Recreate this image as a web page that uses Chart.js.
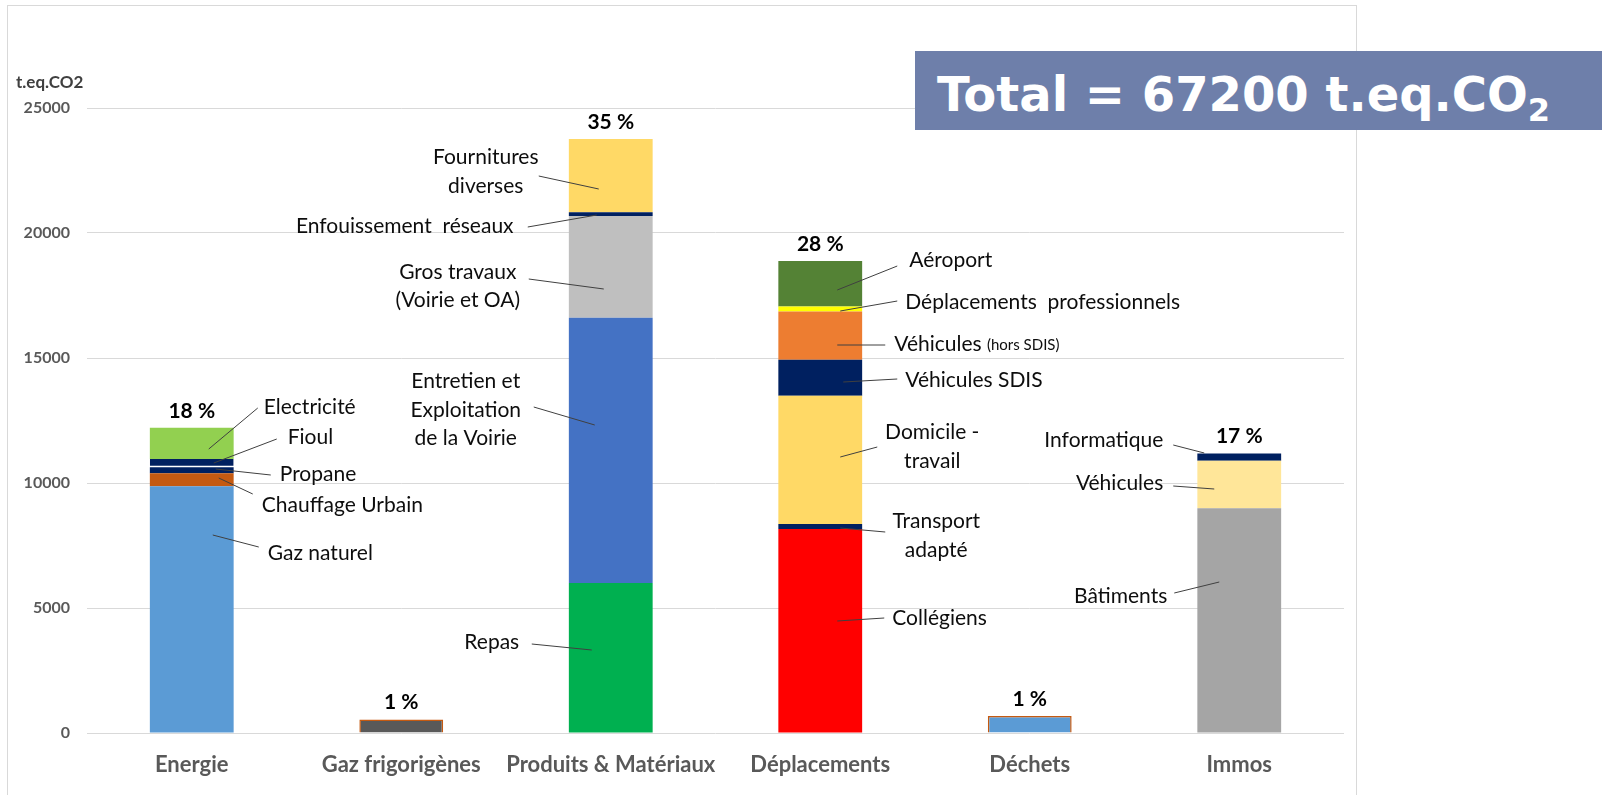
<!DOCTYPE html>
<html>
<head>
<meta charset="utf-8">
<script src="https://cdn.jsdelivr.net/npm/chart.js@4/dist/chart.umd.min.js"></script>
<style>
  html, body { margin: 0; padding: 0; background: #ffffff; }
  #wrap { position: relative; width: 1602px; height: 795px; overflow: hidden; }
  #frame { position: absolute; left: 7px; top: 5px; width: 1350px; height: 820px; border: 1px solid #D9D9D9; box-sizing: border-box; }
  #c { position: absolute; left: 0; top: 0; }
  #total { position: absolute; left: 915px; top: 51px; width: 687px; height: 79px; background: #6E7FAA; overflow: hidden;
           color: #ffffff; font-family: "DejaVu Sans", Verdana, sans-serif; font-weight: bold; font-size: 48px;
           line-height: 86px; padding-left: 22px; box-sizing: border-box; white-space: nowrap; }
  #total sub { font-size: 32px; vertical-align: -10px; line-height: 0; }
</style>
</head>
<body>
<div id="wrap">
  <div id="frame"></div>
  <canvas id="c" width="1602" height="795"></canvas>
  <div id="total">Total = 67200 t.eq.CO<sub>2</sub></div>
</div>
<script>
// ---------- DATA ----------
const categories = ['Energie', 'Gaz frigorigènes', 'Produits & Matériaux', 'Déplacements', 'Déchets', 'Immos'];
const percentLabels = ['18 %', '1 %', '35 %', '28 %', '1 %', '17 %'];
const yTicks = [0, 5000, 10000, 15000, 20000, 25000];
const yUnit = 't.eq.CO2';

// segments, bottom to top
const energieSegments = ['Gaz naturel', 'Chauffage Urbain', 'Propane', 'Fioul', 'Electricité'];
const energieValues   = [9870, 520, 240, 330, 1250];

const gazSegments = ['Gaz frigorigènes'];
const gazValues   = [540];

const produitsSegments = ['Repas', 'Entretien et\nExploitation\nde la Voirie', 'Gros travaux\n(Voirie et OA)', 'Enfouissement  réseaux', 'Fournitures\ndiverses'];
const produitsValues   = [6000, 10610, 4070, 150, 2930];

const deplacementsSegments = ['Collégiens', 'Transport\nadapté', 'Domicile -\ntravail', 'Véhicules SDIS', 'Véhicules (hors SDIS)', 'Déplacements  professionnels', 'Aéroport'];
const deplacementsValues   = [8160, 200, 5130, 1440, 1935, 200, 1820];

const dechetsSegments = ['Déchets'];
const dechetsValues   = [680];

const immosSegments = ['Bâtiments', 'Véhicules', 'Informatique'];
const immosValues   = [8990, 1900, 295];

// ---------- STYLES ----------
const energieColors      = ['#5B9BD5', '#C55A11', '#002060', '#002060', '#92D050'];
const gazColors          = ['#595959'];
const produitsColors     = ['#00B050', '#4472C4', '#BFBFBF', '#002060', '#FFD966'];
const deplacementsColors = ['#FF0000', '#002060', '#FFD966', '#002060', '#ED7D31', '#FFFF00', '#548235'];
const dechetsColors      = ['#5B9BD5'];
const immosColors        = ['#A5A5A5', '#FFE699', '#002060'];

const groups = [
  { segs: energieSegments, vals: energieValues, cols: energieColors },
  { segs: gazSegments, vals: gazValues, cols: gazColors, outline: '#C55A11' },
  { segs: produitsSegments, vals: produitsValues, cols: produitsColors },
  { segs: deplacementsSegments, vals: deplacementsValues, cols: deplacementsColors },
  { segs: dechetsSegments, vals: dechetsValues, cols: dechetsColors, outline: '#C55A11' },
  { segs: immosSegments, vals: immosValues, cols: immosColors }
];

// callout layout: text offset (px from bar centre) and value level, leader line (bar point -> text point)
const callouts = [
  { c: 0, s: 4, align: 'left',   dx: 72,   v: 13040, line: [17, 11360, 66, 13000] },
  { c: 0, s: 3, align: 'left',   dx: 96,   v: 11840, line: [22, 10800, 85, 11760] },
  { c: 0, s: 2, align: 'left',   dx: 88,   v: 10360, line: [24, 10560, 79, 10320] },
  { c: 0, s: 1, align: 'left',   dx: 70,   v: 9120,  line: [27, 10200, 61, 9560] },
  { c: 0, s: 0, align: 'left',   dx: 76,   v: 7200,  line: [21, 7920, 67, 7440] },

  { c: 2, s: 0, align: 'center', dx: -119, v: 3640,  line: [-19, 3320, -79, 3560] },
  { c: 2, s: 1, align: 'center', dx: -145, v: 12920, line: [-16, 12320, -77, 13040] },
  { c: 2, s: 2, align: 'center', dx: -153, v: 17880, line: [-7, 17760, -82, 18160] },
  { c: 2, s: 3, align: 'center', dx: -206, v: 20280, line: [-14, 20720, -83, 20240] },
  { c: 2, s: 4, align: 'center', dx: -125, v: 22460, line: [-12, 21760, -72, 22280] },

  { c: 3, s: 6, align: 'left',   dx: 89,   v: 18920, line: [17, 17720, 77, 18680] },
  { c: 3, s: 5, align: 'left',   dx: 85,   v: 17240, line: [20, 16880, 77, 17280] },
  { c: 3, s: 4, align: 'left',   dx: 74,   v: 15560, line: [17, 15520, 65, 15520] },
  { c: 3, s: 3, align: 'left',   dx: 85,   v: 14120, line: [23, 14040, 77, 14160] },
  { c: 3, s: 2, align: 'center', dx: 112,  v: 11460, line: [20, 11040, 57, 11440] },
  { c: 3, s: 1, align: 'center', dx: 116,  v: 7900,  line: [20, 8200, 65, 8040] },
  { c: 3, s: 0, align: 'left',   dx: 72,   v: 4600,  line: [17, 4480, 64, 4600] },

  { c: 5, s: 2, align: 'right',  dx: -76,  v: 11720, line: [-35, 11200, -66, 11520] },
  { c: 5, s: 1, align: 'right',  dx: -76,  v: 10000, line: [-25, 9760, -66, 9880] },
  { c: 5, s: 0, align: 'right',  dx: -72,  v: 5480,  line: [-20, 6040, -65, 5600] }
];

// ---------- DATASETS ----------
const datasets = [];
groups.forEach((g, ci) => {
  g.vals.forEach((val, si) => {
    const data = categories.map(() => null);
    data[ci] = val;
    const ds = {
      label: g.segs[si],
      data: data,
      backgroundColor: g.cols[si],
      stack: 'all',
      borderWidth: 0,
      barPercentage: 0.40,
      categoryPercentage: 1.0
    };
    if (g.outline) {
      ds.borderColor = g.outline;
      ds.borderWidth = 1.5;
      ds.borderSkipped = 'start';
    }
    if (ci === 0 && si === 3) {
      ds.borderColor = '#ffffff';
      ds.borderWidth = { top: 0, left: 0, right: 0, bottom: 1.5 };
      ds.borderSkipped = false;
    }
    datasets.push(ds);
  });
});

const FONT = 'Lato, "Open Sans", sans-serif';

const annotate = {
  id: 'annotate',
  afterDatasetsDraw(chart) {
    const ctx = chart.ctx;
    const xs = chart.scales.x, ys = chart.scales.y;
    ctx.save();
    // axis unit
    ctx.fillStyle = '#404040';
    ctx.font = 'bold 17px ' + FONT;
    ctx.textAlign = 'left';
    ctx.textBaseline = 'alphabetic';
    ctx.fillText(yUnit, 16, 88);

    // percent labels above bars
    ctx.fillStyle = '#000000';
    ctx.font = 'bold 21px ' + FONT;
    ctx.textAlign = 'center';
    ctx.textBaseline = 'middle';
    groups.forEach((g, ci) => {
      const total = g.vals.reduce((a, b) => a + b, 0);
      ctx.fillText(percentLabels[ci], xs.getPixelForValue(ci), ys.getPixelForValue(total) - 17);
    });

    // callouts
    callouts.forEach(co => {
      const cx = xs.getPixelForValue(co.c);
      const l = co.line;
      ctx.strokeStyle = '#404040';
      ctx.lineWidth = 1;
      ctx.beginPath();
      ctx.moveTo(cx + l[0], ys.getPixelForValue(l[1]));
      ctx.lineTo(cx + l[2], ys.getPixelForValue(l[3]));
      ctx.stroke();

      const text = groups[co.c].segs[co.s];
      const lines = text.split('\n');
      const lh = 28.5;
      const tx = cx + co.dx;
      const ty0 = ys.getPixelForValue(co.v) - (lines.length - 1) * lh / 2;
      ctx.fillStyle = '#0d0d0d';
      ctx.textBaseline = 'middle';
      lines.forEach((ln, i) => {
        const y = ty0 + i * lh;
        const m = ln.match(/^(.*?)(\(hors SDIS\))$/);
        if (m) {
          ctx.font = '21px ' + FONT;
          const w1 = ctx.measureText(m[1]).width;
          ctx.font = '15px ' + FONT;
          const w2 = ctx.measureText(m[2]).width;
          let x0 = co.align === 'left' ? tx : co.align === 'right' ? tx - w1 - w2 : tx - (w1 + w2) / 2;
          ctx.textAlign = 'left';
          ctx.font = '21px ' + FONT;
          ctx.fillText(m[1], x0, y);
          ctx.font = '15px ' + FONT;
          ctx.fillText(m[2], x0 + w1, y + 1);
        } else {
          ctx.font = '21px ' + FONT;
          ctx.textAlign = co.align;
          ctx.fillText(ln, tx, y);
        }
      });
    });
    ctx.restore();
  }
};

new Chart(document.getElementById('c'), {
  type: 'bar',
  data: { labels: categories, datasets: datasets },
  options: {
    responsive: false,
    animation: false,
    devicePixelRatio: 1,
    layout: { padding: { top: 108, right: 258, bottom: 0, left: 0 } },
    plugins: { legend: { display: false }, tooltip: { enabled: false } },
    scales: {
      x: {
        stacked: true,
        grid: { display: false },
        border: { display: false },
        ticks: { color: '#595959', font: { family: FONT, size: 22, weight: 'bold' }, padding: 11, maxRotation: 0, autoSkip: false },
        afterFit(s) { s.height = 62; }
      },
      y: {
        stacked: true,
        min: 0,
        max: 25000,
        afterBuildTicks(s) { s.ticks = yTicks.map(v => ({ value: v })); },
        grid: { color: '#D9D9D9', lineWidth: 1, drawTicks: false },
        border: { display: false },
        ticks: { color: '#595959', font: { family: FONT, size: 16, weight: 'bold' }, padding: 17, callback: v => String(v) },
        afterFit(s) { s.width = 87; }
      }
    }
  },
  plugins: [annotate]
});
</script>
</body>
</html>
